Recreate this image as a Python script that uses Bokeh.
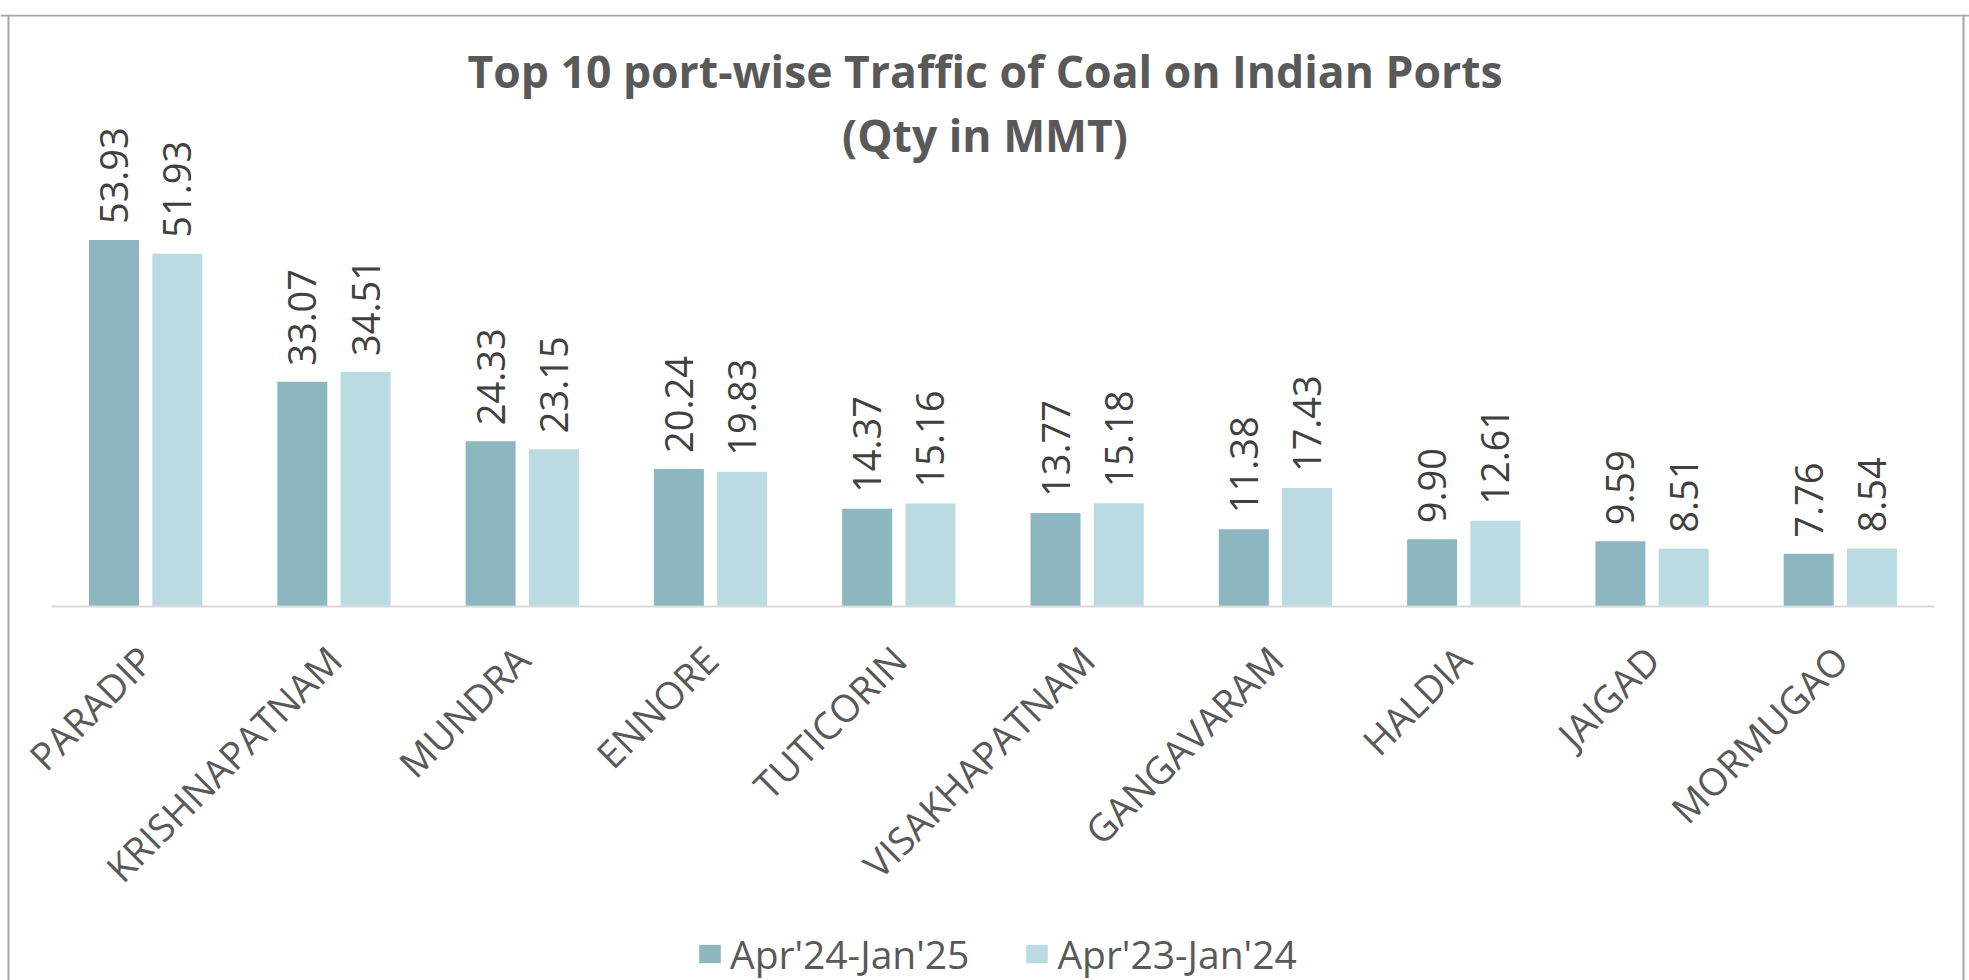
import math
import numpy as np
from bokeh.plotting import figure
from bokeh.models import (ColumnDataSource, Range1d, LinearAxis, FixedTicker, Span,
                          Label, Legend, LegendItem)
from bokeh.core.properties import value
from bokeh.embed import file_html
from bokeh.resources import INLINE

# ---------------- data ----------------
ports = ["PARADIP", "KRISHNAPATNAM", "MUNDRA", "ENNORE", "TUTICORIN",
         "VISAKHAPATNAM", "GANGAVARAM", "HALDIA", "JAIGAD", "MORMUGAO"]
qty_2425 = [53.93, 33.07, 24.33, 20.24, 14.37, 13.77, 11.38, 9.90, 9.59, 7.76]
qty_2324 = [51.93, 34.51, 23.15, 19.83, 15.16, 15.18, 17.43, 12.61, 8.51, 8.54]
series_names = ["Apr'24-Jan'25", "Apr'23-Jan'24"]
title_lines = ["Top 10 port-wise Traffic of Coal on Indian Ports", "(Qty in MMT)"]

# ---------------- layout constants (pixels) ----------------
W, H = 1969, 980
CAT_PX = 188.3        # width of one category
Y_PX = 6.794          # pixels per MMT
LEFT_PX = 51          # canvas left edge to first category
TOP_BORDER = 14       # canvas top to frame top
AXIS_Y = 606          # canvas y of the zero line
BORDER_L, BORDER_R = 8, 1963

x_start = -LEFT_PX / CAT_PX
x_end = x_start + W / CAT_PX
y_end = (AXIS_Y - TOP_BORDER) / Y_PX
y_start = -(H - AXIS_Y) / Y_PX

DARK = "#8cb7c0"
LIGHT = "#bbdbe2"
FONT = "Open Sans"

n = len(ports)
centers = np.arange(n) + 0.5
off = 0.168
bw = 0.2655

src = ColumnDataSource(dict(
    x1=centers - off, x2=centers + off,
    v1=qty_2425, v2=qty_2324,
    l1=[f"{v:.2f}" for v in qty_2425],
    l2=[f"{v:.2f}" for v in qty_2324],
))

p = figure(width=W, height=H,
           x_range=Range1d(x_start, x_end), y_range=Range1d(y_start, y_end),
           x_axis_location=None, y_axis_location=None,
           toolbar_location=None, output_backend="svg",
           min_border=0, min_border_top=TOP_BORDER,
           outline_line_color=None, background_fill_color="white",
           border_fill_color="white")
p.grid.grid_line_color = None

r1 = p.vbar(x="x1", top="v1", width=bw, source=src, fill_color=DARK, line_color=None)
r2 = p.vbar(x="x2", top="v2", width=bw, source=src, fill_color=LIGHT, line_color=None)

for xs, ys, ls in (("x1", "v1", "l1"), ("x2", "v2", "l2")):
    p.text(x=xs, y=ys, text=ls, source=src, angle=math.pi / 2,
           text_align="left", text_baseline="middle", y_offset=-16,
           text_font=value(FONT), text_font_size="38px", text_color="#404040")

# baseline of the category axis
p.segment(x0=[0], y0=[0], x1=[n], y1=[0], line_color="#d9d9d9", line_width=2)

# category axis drawn at y = 0
xaxis = LinearAxis(fixed_location=0,
                   ticker=FixedTicker(ticks=[float(c) for c in centers]),
                   major_label_overrides={float(c): name for c, name in zip(centers, ports)},
                   major_label_orientation=math.pi / 4,
                   axis_line_color=None, major_tick_line_color=None,
                   minor_tick_line_color=None,
                   major_label_text_font=FONT, major_label_text_font_size="38px",
                   major_label_text_color="#595959", major_label_standoff=40)
p.add_layout(xaxis, "below")

# title
title_x = (x_start + x_end) / 2
for line, base_px in zip(title_lines, (56, 119.5)):
    p.add_layout(Label(x=title_x, y=y_end - base_px / Y_PX, text=line,
                       text_align="center", text_baseline="alphabetic",
                       text_font=FONT, text_font_style="bold",
                       text_font_size="44.5px", text_color="#595959"))

# legend
legend = Legend(items=[LegendItem(label=series_names[0], renderers=[r1]),
                       LegendItem(label=series_names[1], renderers=[r2])],
                location=(696, 0), orientation="horizontal",
                glyph_width=27, glyph_height=23, label_standoff=7, spacing=54,
                padding=0, margin=0, border_line_color=None,
                background_fill_alpha=0,
                label_text_font=FONT, label_text_font_size="39px",
                label_text_color="#595959")
p.add_layout(legend)

# chart border (left, top, right)
BORDER = "#a6a6a6"
p.add_layout(Span(location=x_start + BORDER_L / CAT_PX, dimension="height",
                  line_color=BORDER, line_width=2))
p.add_layout(Span(location=x_start + BORDER_R / CAT_PX, dimension="height",
                  line_color=BORDER, line_width=2))
p.add_layout(Span(location=y_end - 1.0 / Y_PX, dimension="width",
                  line_color=BORDER, line_width=2))

open("out.html", "w").write(file_html(p, INLINE))
